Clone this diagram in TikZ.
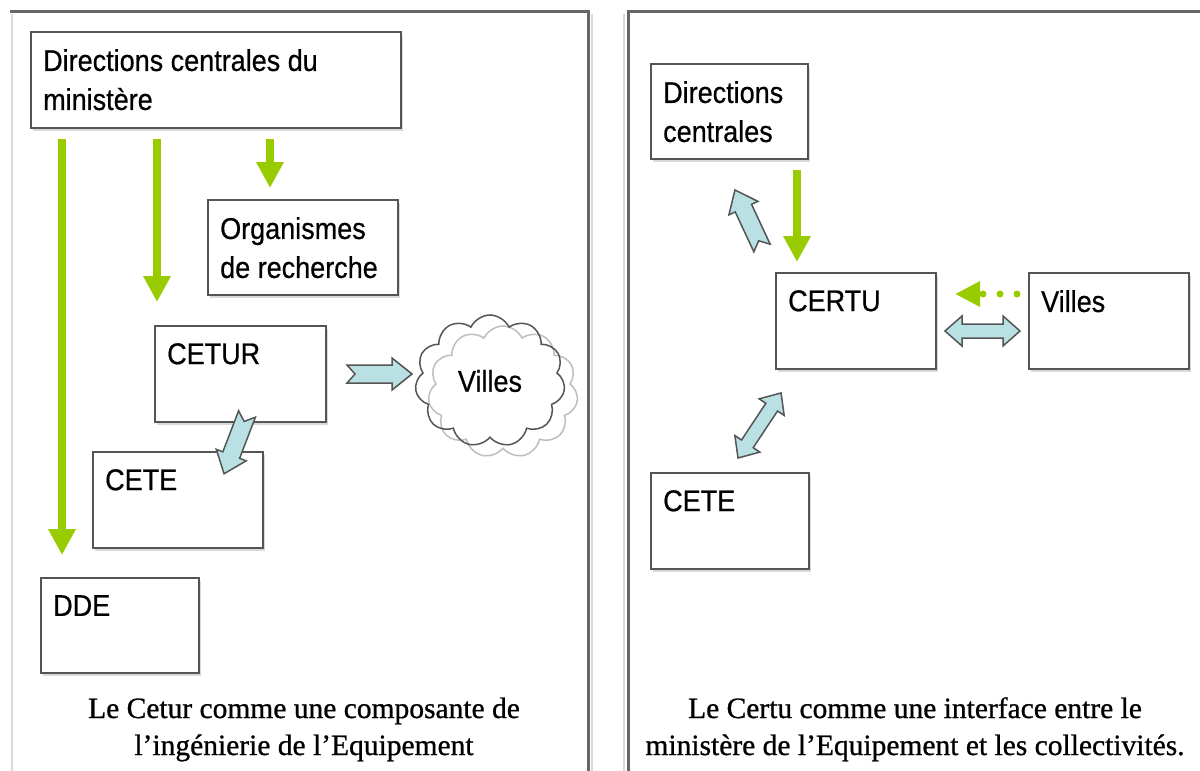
\documentclass[tikz,border=0pt]{standalone}
\usepackage{fontspec}
\newfontfamily\boxfont[FakeStretch=0.9,FakeBold=0.6]{Liberation Sans}
\newfontfamily\capfont[FakeBold=0.8]{Liberation Serif}
\usepackage{tikz}
\usetikzlibrary{arrows.meta,shapes.symbols,shadows}

\definecolor{framegray}{HTML}{676767}
\definecolor{shadegray}{HTML}{D9D9D9}
\definecolor{edgegray}{HTML}{555555}
\definecolor{arrowgreen}{HTML}{99CC00}
\definecolor{arrowblue}{HTML}{B9E1E4}

\tikzset{
  box/.style={draw=edgegray, line width=2pt, fill=white, rectangle, anchor=north west, inner sep=0pt,
    drop shadow={shadow xshift=2pt, shadow yshift=-3pt, fill=shadegray, opacity=1}},
  boxlabel/.style={anchor=north west, inner xsep=13pt, inner ysep=18pt, align=left,
    font=\boxfont\fontsize{30}{39}\selectfont},
  greenarrow/.style={draw=arrowgreen, line width=8pt, -{Triangle[width=26pt,length=26pt]}},
  greendots/.style={draw=arrowgreen, line width=7pt, line cap=round, dash pattern=on 0pt off 17pt,
    -{Triangle[width=24pt,length=25pt]}},
  bluearrow/.style={draw=edgegray, line width=1.5pt, fill=arrowblue},
  caption/.style={align=center, font=\capfont\fontsize{29.5}{37}\selectfont},
  pics/blockarrow/.style={code={
    \draw[bluearrow] (0,-9) -- (#1-20,-9) -- (#1-20,-16) -- (#1,0) -- (#1-20,16) -- (#1-20,9) -- (0,9) -- (8,0) -- cycle;
  }},
  pics/twinarrow/.style={code={
    \draw[bluearrow] (0,0) -- (17,-15) -- (17,-7) -- (#1-17,-7) -- (#1-17,-15) -- (#1,0) -- (#1-17,15) -- (#1-17,7) -- (17,7) -- (17,15) -- cycle;
  }},
}

\begin{document}
\begin{tikzpicture}[x=1pt, y=-1pt]
	% Frames, boxes and arrows:
	\useasboundingbox[fill=white] (0,0) rectangle (1200,771);
	\draw[shadegray, line width=2pt] (12,14) -- (12,771);
	\draw[shadegray, line width=2pt] (592,14) -- (592,771);
	\draw[framegray, line width=3pt] (10,11) -- (588,11) -- (588,771);
	\draw[shadegray, line width=2pt] (624,14) -- (624,771);
	\draw[framegray, line width=3pt] (628,771) -- (628,11) -- (1200,11);

	\node[box, minimum width=370, minimum height=96, label={[boxlabel]north west:Directions centrales du\\ministère}] (dirl) at (30,31){};
	\node[box, minimum width=190, minimum height=95, label={[boxlabel]north west:Organismes\\de recherche}] (org) at (207,199){};
	\node[box, minimum width=171, minimum height=96, label={[boxlabel]north west:CETUR}] (cetur) at (154,325){};
	\node[box, minimum width=170, minimum height=96, label={[boxlabel]north west:CETE}] (cetel) at (92,451){};
	\node[box, minimum width=158, minimum height=95, label={[boxlabel]north west:DDE}] (dde) at (40,577){};
	\node[cloud, draw=shadegray!70!gray, line width=1.5pt, cloud puffs=11, cloud puff arc=130, aspect=1.1, minimum width=150, minimum height=132, inner sep=0pt] (villesl-shade) at (503,392){};
	\node[cloud, draw=edgegray, line width=1.5pt, cloud puffs=11, cloud puff arc=130, aspect=1.1, minimum width=150, minimum height=132, inner sep=0pt, font=\boxfont\fontsize{30}{39}\selectfont] (villesl) at (490,381){Villes};

	\draw[greenarrow] ([xshift=32pt,yshift=-10pt]dirl.south west) -- ([xshift=22pt,yshift=22pt]dde.north west);
	\draw[greenarrow] ([xshift=127pt,yshift=-10pt]dirl.south west) -- ([xshift=3pt,yshift=23pt]cetur.north west);
	\draw[greenarrow] ([xshift=240pt,yshift=-10pt]dirl.south west) -- ([xshift=63pt,yshift=11pt]org.north west);
	\coordinate (toville) at ([xshift=20pt]cetur.east);
	\coordinate (tocete) at ([xshift=6.5pt,yshift=9pt]cetur.south);
	\pic at (toville) {blockarrow=65};
	\pic[rotate=-111] at (tocete) {blockarrow=64};

	\node[box, minimum width=157, minimum height=95, label={[boxlabel]north west:Directions\\centrales}] (dirr) at (650,63){};
	\node[box, minimum width=160, minimum height=96, label={[boxlabel]north west:CERTU}] (certu) at (775,272){};
	\node[box, minimum width=160, minimum height=96, label={[boxlabel]north west:Villes}] (villesr) at (1028,272){};
	\node[box, minimum width=158, minimum height=96, label={[boxlabel]north west:CETE}] (ceter) at (650,472){};

	\draw[greenarrow] ([xshift=147pt,yshift=-10pt]dirr.south west) -- ([xshift=22pt,yshift=10pt]certu.north west);
	\draw[greendots] ([xshift=-11pt,yshift=-22pt]villesr.north west) -- ([xshift=18pt,yshift=-22pt]certu.north east);
	\coordinate (todir) at ([xshift=-13pt,yshift=24pt]certu.north west);
	\coordinate (tovilles) at ([xshift=8pt,yshift=-10pt]certu.east);
	\coordinate (toceter) at ([xshift=8pt,yshift=14pt]ceter.north);
	\pic[rotate=115] at (todir) {blockarrow=64};
	\pic at (tovilles) {twinarrow=75};
	\pic[rotate=56.5] at (toceter) {twinarrow=78};

	\node[caption, anchor=base] (capl) at (304,755) {Le Cetur comme une composante de\\l’ingénierie de l’Equipement};
	\node[caption, anchor=base] (capr) at (915,755) {Le Certu comme une interface entre le\\ministère de l’Equipement et les collectivités.};
\end{tikzpicture}
\end{document}
